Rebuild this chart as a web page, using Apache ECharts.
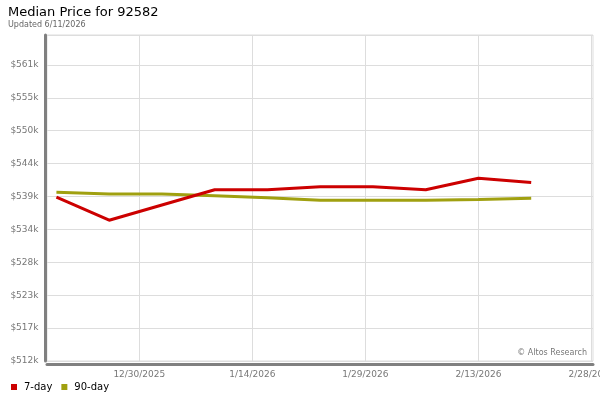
<!DOCTYPE html>
<html>
<head>
<meta charset="utf-8">
<script src="https://cdn.jsdelivr.net/npm/echarts@6/dist/echarts.min.js"></script>
<style>
html,body{margin:0;padding:0;background:#fff;}
#c{width:600px;height:400px;}
</style>
</head>
<body>
<div id="c"></div>
<script>
var dates = ['2025-12-19','2025-12-26','2026-01-02','2026-01-09','2026-01-16','2026-01-23','2026-01-30','2026-02-06','2026-02-13','2026-02-20'];
var day7 = [538900, 535100, 537600, 540100, 540100, 540600, 540600, 540100, 542000, 541300];
var day90 = [539700, 539400, 539400, 539100, 538800, 538400, 538400, 538400, 538500, 538700];
var xTickDates = ['2025-12-30','2026-01-14','2026-01-29','2026-02-13','2026-02-28'];
var seriesNames = ['7-day', '90-day'];
var titleText = 'Median Price for 92582';
var subtitleText = 'Updated 6/11/2026';
var creditText = '\u00A9 Altos Research';

function ts(s){ var p = s.split('-'); return Date.UTC(+p[0], +p[1]-1, +p[2]); }
function pairs(vals){ return dates.map(function(d,i){ return [ts(d), vals[i]]; }); }
var DAY = 86400000;
var xMin = ts('2025-12-17') + 0.75*DAY;
var xMax = ts('2026-02-28') + 0.2*DAY;
var xTicks = xTickDates.map(ts);

var chart = echarts.init(document.getElementById('c'), null, {renderer:'canvas'});
var FONT = 'DejaVu Sans';
chart.setOption({
  animation: false,
  backgroundColor: '#fff',
  textStyle: {fontFamily: FONT},
  title: {
    text: titleText,
    subtext: subtitleText,
    left: 8, top: 6, itemGap: 2, padding: 0,
    textStyle: {fontFamily: FONT, fontSize: 13, fontWeight: 'normal', color: '#000'},
    subtextStyle: {fontFamily: FONT, fontSize: 8, color: '#666'}
  },
  legend: {
    left: 6, top: 377,
    icon: 'rect', itemWidth: 6, itemHeight: 6, itemGap: 9,
    data: seriesNames,
    textStyle: {fontFamily: FONT, fontSize: 10, color: '#000', padding: [0,0,0,2]}
  },
  grid: {left: 47, right: 7, top: 35, bottom: 39, show: true, borderColor: '#ddd', borderWidth: 1,
    containLabel: false, outerBoundsMode: 'none'},
  xAxis: {
    type: 'value', min: xMin, max: xMax, offset: 3.5,
    axisLine: {show: true, onZero: false, lineStyle: {color: '#808080', width: 3}},
    axisTick: {show: false, customValues: xTicks},
    axisLabel: {customValues: xTicks, color: '#777', fontSize: 9, fontFamily: FONT, margin: 6,
      formatter: function(v){ var d = new Date(v); return (d.getUTCMonth()+1)+'/'+d.getUTCDate()+'/'+d.getUTCFullYear(); }},
    splitLine: {show: true, lineStyle: {color: '#ddd', width: 1}}
  },
  yAxis: {
    type: 'value', min: 512000, max: 565500, interval: 5400, offset: 1.5,
    axisLine: {show: true, lineStyle: {color: '#808080', width: 3}},
    axisTick: {show: false},
    axisLabel: {color: '#777', fontSize: 9, fontFamily: FONT, margin: 7,
      formatter: function(v){ if (v > 563000) return ''; return '$' + Math.round(v/1000) + 'k'; }},
    splitLine: {show: true, lineStyle: {color: '#ddd', width: 1}}
  },
  graphic: [{
    type: 'text', right: 13, top: 349,
    style: {text: creditText, fill: '#777', font: '8px "DejaVu Sans"'}
  }],
  series: [
    {name: seriesNames[1], type: 'line', data: pairs(day90), showSymbol: false, z: 2,
      lineStyle: {color: '#a0a010', width: 3}, itemStyle: {color: '#a0a010'}},
    {name: seriesNames[0], type: 'line', data: pairs(day7), showSymbol: false, z: 3,
      lineStyle: {color: '#cc0000', width: 3}, itemStyle: {color: '#cc0000'}}
  ]
});
</script>
</body>
</html>
